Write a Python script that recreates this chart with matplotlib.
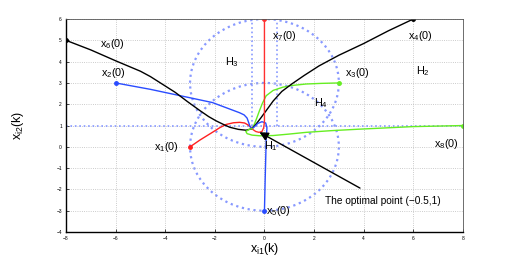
import numpy as np
import matplotlib
matplotlib.use('Agg')
import matplotlib.pyplot as plt
from matplotlib.patches import Circle

plt.rcParams['font.family'] = ['Liberation Sans', 'DejaVu Sans']
plt.rcParams['mathtext.default'] = 'regular'

# trajectories (x, y)
x1_x = [-3, -2.6, -2.1, -1.8, -1.55, -1.25, -1.0, -0.8, -0.65, -0.55, -0.5]
x1_y = [0, 0.32, 0.68, 0.9, 1.05, 1.13, 1.15, 1.12, 1.02, 0.92, 0.85]
x2_x = [-6, -4.6, -2.1, -1.0, -0.82, -0.7, -0.64, -0.58, -0.5]
x2_y = [3, 2.7, 2.08, 1.6, 1.5, 1.35, 1.15, 0.95, 0.85]
x3_x = [3, 2.3, 1.68, 1.1, 0.74, 0.35, 0.07, -0.08, -0.2, -0.3, -0.4, -0.5]
x3_y = [3, 2.98, 2.95, 2.88, 2.8, 2.65, 2.4, 2.05, 1.7, 1.38, 1.08, 0.85]
x4_x = [6, 5, 4, 3, 2.2, 1.6, 1.1, 0.7, 0.35, 0.07, -0.15, -0.33, -0.5]
x4_y = [6, 5.45, 4.85, 4.3, 3.8, 3.35, 2.95, 2.6, 2.15, 1.7, 1.35, 1.08, 0.85]
x5_x = [0, 0.03, 0.07, 0.1, 0.05, -0.1, -0.27, -0.4, -0.5]
x5_y = [-3, -1.5, 0.3, 0.9, 1.12, 1.18, 1.1, 0.95, 0.85]
x6_x = [-8, -7, -6, -5, -4.6, -4.1, -3.6, -3.1, -2.6, -2.25, -1.95,
        -1.65, -1.4, -1.05, -0.74, -0.5]
x6_y = [5, 4.55, 4.04, 3.55, 3.3, 2.93, 2.56, 2.12, 1.7, 1.42, 1.22,
        1.05, 0.92, 0.82, 0.78, 0.85]
x7_x = [0, 0, 0, -0.03, -0.1, -0.22, -0.35, -0.45, -0.5]
x7_y = [6, 3, 1.2, 0.9, 0.72, 0.68, 0.72, 0.8, 0.85]
x8_x = [8, 6, 3.83, 2.7, 1.68, 1.0, 0.34, -0.2, -0.5, -0.7, -0.75, -0.62, -0.5]
x8_y = [1, 0.95, 0.83, 0.76, 0.68, 0.6, 0.53, 0.52, 0.55, 0.62, 0.72, 0.82, 0.85]

trajs = [(x1_x, x1_y, '#ff2020', r'$x_1(0)$', -4.45, 0.0),
         (x2_x, x2_y, '#2a4cff', r'$x_2(0)$', -6.6, 3.45),
         (x3_x, x3_y, '#66ee22', r'$x_3(0)$', 3.25, 3.45),
         (x4_x, x4_y, 'black', r'$x_4(0)$', 5.8, 5.2),
         (x5_x, x5_y, '#2a4cff', r'$x_5(0)$', 0.05, -3.0),
         (x6_x, x6_y, 'black', r'$x_6(0)$', -6.65, 4.85),
         (x7_x, x7_y, '#ff3030', r'$x_7(0)$', 0.3, 5.2),
         (x8_x, x8_y, '#66ee22', r'$x_8(0)$', 6.85, 0.15)]

circ_centers = [(0, 0), (0, 3)]
circ_r = 3
regions = [(r'$H_1$', 0.0, 0.05), (r'$H_2$', 6.1, 3.55),
           (r'$H_3$', -1.6, 4.0), (r'$H_4$', 2.0, 2.05)]

fig = plt.figure(figsize=(5.12, 2.61), dpi=100)
ax = fig.add_axes([0.129, 0.111, 0.775, 0.816])

circ_col = '#8899ff'
for c in circ_centers:
    ax.add_patch(Circle(c, circ_r, fill=False, ec=circ_col, ls=':', lw=1.6))
ax.plot([-8, 8], [1, 1], ':', color=circ_col, lw=1.2)
ax.plot([-0.5, -0.5], [1, 6], ':', color=circ_col, lw=1.2)
ax.plot([0.5, 0.5], [1, 6], ':', color=circ_col, lw=1.2)

for tx, ty, col, lab, lx, ly in trajs:
    ax.plot(tx, ty, color=col, lw=1.0)
    ax.plot(tx[0], ty[0], 'o', color=col, ms=2.5)
    ax.text(lx, ly, lab, fontsize=7.8, va='center', ha='left')

for lab, hx, hy in regions:
    ax.text(hx, hy, lab, fontsize=7.8, va='center', ha='left')

ax.annotate('', xy=(-0.3, 0.75), xytext=(3.95, -2.0),
            arrowprops=dict(arrowstyle='-|>', color='black', lw=1.0,
                            mutation_scale=13))
ax.text(2.45, -2.55, 'The optimal point (\u22120.5,1)', fontsize=7.3,
        va='center', ha='left')

ax.set_xlim(-8, 8)
ax.set_ylim(-4, 6)
ax.set_xticks(np.arange(-8, 9, 2))
ax.set_yticks(np.arange(-4, 7, 1))
ax.tick_params(direction='in', labelsize=3.5, length=2, width=0.5, pad=3)
ax.grid(True, ls=':', color='#bbbbbb', lw=0.6)
for s in ['top', 'right']:
    ax.spines[s].set_color('#555555')
    ax.spines[s].set_linewidth(0.6)
for s in ['left', 'bottom']:
    ax.spines[s].set_linewidth(1.0)
ax.set_xlabel(r'$x_{i1}(k)$', fontsize=9, labelpad=0)
ax.set_ylabel(r'$x_{i2}(k)$', fontsize=9, labelpad=22)

fig.savefig('out.png', dpi=100)
